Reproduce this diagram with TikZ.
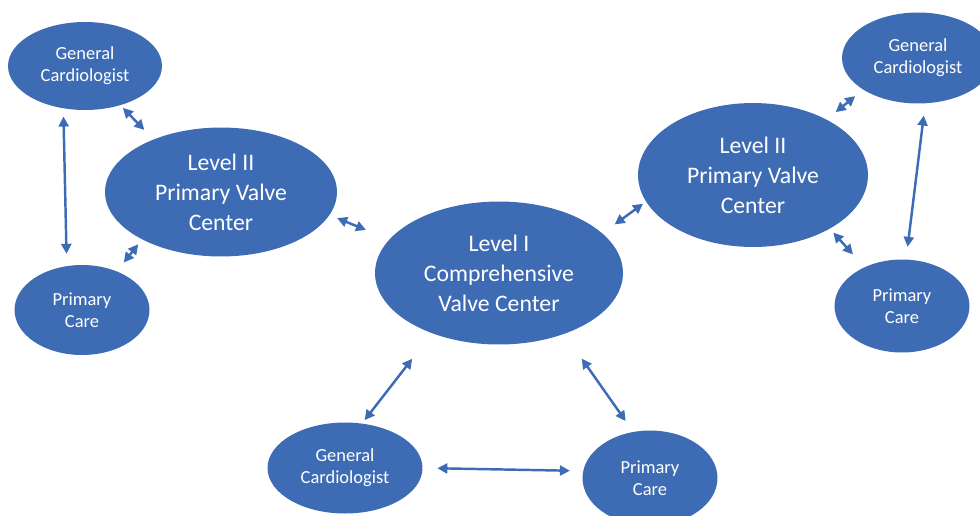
\documentclass[tikz,border=0pt]{standalone}
\usepackage{fontspec}
\setmainfont{Carlito}
\usepackage{tikz}
\usetikzlibrary{arrows.meta}
\usetikzlibrary{shapes.geometric}
\definecolor{valveblue}{RGB}{61,108,181}

\begin{document}
\begin{tikzpicture}[x=0.02cm, y=-0.02cm,
        center/.style={ellipse, fill=valveblue, text=white, align=center, inner sep=0pt,
            font=\fontsize{13.5}{17}\selectfont},
        clinic/.style={ellipse, fill=valveblue, text=white, align=center, inner sep=0pt,
            font=\fontsize{10.5}{12.5}\selectfont},
        link/.style={valveblue, line width=1.4pt,
            {Triangle[length=0.2cm, width=0.2cm]}-{Triangle[length=0.2cm, width=0.2cm]}}]
    \useasboundingbox (0,0) rectangle (980,515);
    % level I in the middle
    \node [center, minimum width=4.96cm, minimum height=2.86cm] (lvlI) at (499,273) {Level I\\Comprehensive\\Valve Center};
    % left group
    \node [center, minimum width=4.64cm, minimum height=2.58cm] (lvlL) at (221,192) {Level II\\Primary Valve\\Center};
    \node [clinic, minimum width=3.08cm, minimum height=1.76cm] (gcL) at (85,66) {General\\Cardiologist};
    \node [clinic, minimum width=2.70cm, minimum height=1.80cm] (pcL) at (82,310) {Primary\\Care};
    % right group
    \node [center, minimum width=4.60cm, minimum height=2.88cm] (lvlR) at (753,175) {Level II\\Primary Valve\\Center};
    \node [clinic, minimum width=3.04cm, minimum height=1.82cm] (gcR) at (918,58) {General\\Cardiologist};
    \node [clinic, minimum width=2.70cm, minimum height=1.86cm] (pcR) at (902,306) {Primary\\Care};
    % bottom group
    \node [clinic, minimum width=3.10cm, minimum height=1.82cm] (gcB) at (345,468) {General\\Cardiologist};
    \node [clinic, minimum width=2.70cm, minimum height=1.90cm] (pcB) at (650,478) {Primary\\Care};

    \draw [link, shorten <=0.07cm, shorten >=0.26cm] (gcL.-48.6) -- (lvlL.142.8);
    \draw [link, shorten <=0.16cm, shorten >=0.24cm] (gcL.-117.9) -- (pcL.109.1);
    \draw [link, shorten <=0.12cm, shorten >=0.22cm] (lvlL.211.6) -- (pcL.48.9);
    \draw [link, shorten <=0.16cm, shorten >=0.50cm] (lvlL.-12.2) -- (lvlI.163.4);
    \draw [link, shorten <=0.30cm, shorten >=0.07cm] (lvlI.21.6) -- (lvlR.194.3);
    \draw [link, shorten <=0.23cm, shorten >=0.20cm] (lvlR.37.5) -- (gcR.210.4);
    \draw [link, shorten <=0.24cm, shorten >=0.25cm] (gcR.-81) -- (pcR.85.2);
    \draw [link, shorten <=0.10cm, shorten >=0.34cm] (lvlR.-35.5) -- (pcR.134.4);
    \draw [link, shorten <=0.64cm, shorten >=0.08cm] (lvlI.222) -- (gcB.69.4);
    \draw [link, shorten <=0.60cm, shorten >=0.26cm] (lvlI.-43.6) -- (pcB.110.8);
    \draw [link, shorten <=0.29cm, shorten >=0.26cm] (gcB.0) -- (pcB.174.3);
\end{tikzpicture}
\end{document}
